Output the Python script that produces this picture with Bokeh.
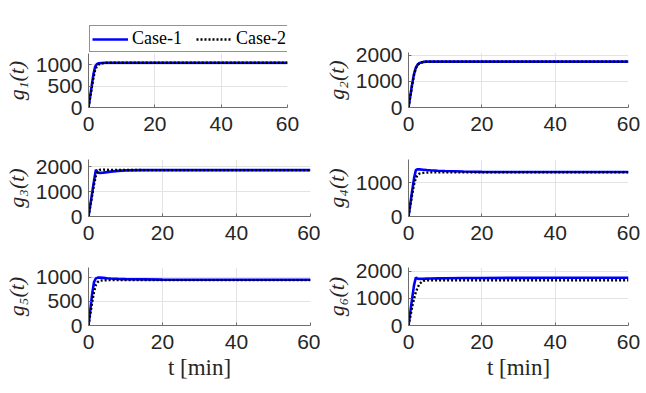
from bokeh.plotting import figure
from bokeh.layouts import column, row
from bokeh.models import Range1d, FixedTicker, Legend, LegendItem
from bokeh.embed import file_html
from bokeh.resources import INLINE

# time samples [min]
t = [0, 0.5, 1, 1.5, 2, 2.5, 3, 4, 5, 6, 8, 10, 15, 20, 30, 40, 50, 60]

# Case-1 (blue solid) and Case-2 (black dotted)
g1_c1 = [0, 260, 520, 780, 950, 1010, 1030, 1040, 1045, 1045, 1045, 1045, 1045, 1045, 1045, 1045, 1045, 1045]
g1_c2 = [0, 230, 470, 700, 870, 960, 1000, 1030, 1040, 1045, 1045, 1045, 1045, 1045, 1045, 1045, 1045, 1045]
g2_c1 = [0, 450, 900, 1280, 1530, 1650, 1710, 1750, 1760, 1760, 1760, 1760, 1760, 1760, 1760, 1760, 1760, 1760]
g2_c2 = [0, 430, 870, 1250, 1500, 1630, 1700, 1745, 1758, 1760, 1760, 1760, 1760, 1760, 1760, 1760, 1760, 1760]
g3_c1 = [0, 480, 960, 1440, 1890, 1780, 1760, 1770, 1790, 1810, 1840, 1860, 1870, 1870, 1870, 1870, 1870, 1870]
g3_c2 = [0, 430, 870, 1300, 1650, 1820, 1880, 1890, 1885, 1880, 1878, 1875, 1873, 1872, 1872, 1872, 1872, 1872]
g4_c1 = [0, 380, 760, 1130, 1380, 1410, 1405, 1395, 1385, 1378, 1365, 1355, 1340, 1330, 1325, 1325, 1325, 1325]
g4_c2 = [0, 330, 660, 950, 1150, 1240, 1280, 1300, 1310, 1315, 1320, 1320, 1320, 1320, 1320, 1320, 1320, 1320]
g5_c1 = [0, 330, 660, 900, 975, 990, 990, 985, 978, 972, 965, 960, 955, 950, 948, 948, 948, 948]
g5_c2 = [0, 240, 490, 700, 840, 900, 925, 935, 938, 938, 938, 938, 938, 938, 938, 938, 938, 938]
g6_c1 = [0, 500, 1000, 1480, 1770, 1730, 1720, 1725, 1730, 1735, 1740, 1745, 1750, 1755, 1758, 1760, 1760, 1760]
g6_c2 = [0, 330, 700, 980, 1230, 1400, 1540, 1650, 1665, 1670, 1670, 1670, 1670, 1670, 1670, 1670, 1670, 1670]

series = [(g1_c1, g1_c2), (g2_c1, g2_c2), (g3_c1, g3_c2),
          (g4_c1, g4_c2), (g5_c1, g5_c2), (g6_c1, g6_c2)]
y_labels = ["g\u2081(t)", "g\u2082(t)", "g\u2083(t)", "g\u2084(t)", "g\u2085(t)", "g\u2086(t)"]
y_max = [1260, 2110, 2300, 1700, 1200, 2140]
y_ticks = [[0, 500, 1000], [0, 1000, 2000], [0, 1000, 2000],
           [0, 1000, 2000], [0, 500, 1000], [0, 1000, 2000]]
x_ticks = [0, 20, 40, 60]
legend_labels = ["Case-1", "Case-2"]

AX = "#262626"
AXLINE = "#6e6e6e"
GRID = "#e3e3e3"
BLUE = "#0000ff"

# per figure geometry: (height, top, bottom)
geo_h = [(87, 0, 33), (140, 52, 33), (109, 19, 33), (109, 19, 33), (143, 18, 67), (143, 18, 67)]
col_geo = [(320, 86, 10), (324, 86, 16)]

figs = []
for i in range(6):
    r, c = divmod(i, 2)
    h, bt, bb = geo_h[i]
    w, bl, br = col_geo[c]
    p = figure(width=w, height=h, output_backend="svg", toolbar_location=None,
               x_range=Range1d(0, 60), y_range=Range1d(0, y_max[i]),
               min_border_left=bl, min_border_right=br,
               min_border_top=bt, min_border_bottom=bb)
    p.outline_line_color = None
    p.background_fill_color = "white"
    c1, c2 = series[i]
    p.line(t, c1, line_color=BLUE, line_width=2.6)
    p.line(t, c2, line_color="black", line_width=2.4, line_dash="2 2")

    for ax in (p.xaxis[0], p.yaxis[0]):
        ax.axis_line_color = AXLINE
        ax.axis_line_width = 1
        ax.major_tick_line_color = AXLINE
        ax.major_tick_in = 3
        ax.major_tick_out = 0
        ax.minor_tick_line_color = None
        ax.major_label_text_font = "Liberation Sans"
        ax.major_label_text_font_size = "21px"
        ax.major_label_text_color = AX
    p.xaxis.ticker = FixedTicker(ticks=x_ticks)
    p.yaxis.ticker = FixedTicker(ticks=y_ticks[i])
    p.xaxis.major_label_standoff = 9
    p.yaxis.major_label_standoff = 6
    p.xgrid.ticker = FixedTicker(ticks=x_ticks)
    p.ygrid.ticker = FixedTicker(ticks=y_ticks[i])
    p.grid.grid_line_color = GRID
    p.grid.grid_line_width = 1

    p.yaxis.axis_label = y_labels[i]
    p.yaxis.axis_label_text_font = "Liberation Serif"
    p.yaxis.axis_label_text_font_style = "italic"
    p.yaxis.axis_label_text_font_size = "22px"
    p.yaxis.axis_label_text_color = AX
    p.yaxis.axis_label_standoff = 4

    if r == 2:
        p.xaxis.axis_label = "t [min]"
        p.xaxis.axis_label_text_font = "Liberation Serif"
        p.xaxis.axis_label_text_font_style = "normal"
        p.xaxis.axis_label_text_font_size = "23px"
        p.xaxis.axis_label_text_color = AX
        p.xaxis.axis_label_standoff = 3
    figs.append(p)

# legend strip above the first panel (proxy lines lie outside its visible range)
lg = figure(width=320, height=53, output_backend="svg", toolbar_location=None,
            x_range=Range1d(100, 101), y_range=Range1d(5000, 5001),
            x_axis_location=None, y_axis_location=None,
            min_border_left=85, min_border_right=33, min_border_top=20, min_border_bottom=0)
lg.grid.visible = False
lg.outline_line_color = None
d1 = lg.line(t, g1_c1, line_color=BLUE, line_width=2.6)
d2 = lg.line(t, g1_c2, line_color="black", line_width=2.4, line_dash="2 2")
legend = Legend(items=[LegendItem(label=legend_labels[0], renderers=[d1]),
                       LegendItem(label=legend_labels[1], renderers=[d2])],
                orientation="horizontal", location="bottom_left",
                glyph_width=36, glyph_height=18, label_standoff=4,
                label_width=52, spacing=12, padding=2, margin=1,
                label_text_font="Liberation Serif", label_text_font_size="18px",
                label_text_color="black",
                border_line_color=AX, border_line_width=1,
                background_fill_color="white", background_fill_alpha=1)
lg.add_layout(legend, "center")

layout = column(row(column(lg, figs[0]), figs[1]),
                row(figs[2], figs[3]),
                row(figs[4], figs[5]))
open("out.html", "w").write(file_html(layout, INLINE))
